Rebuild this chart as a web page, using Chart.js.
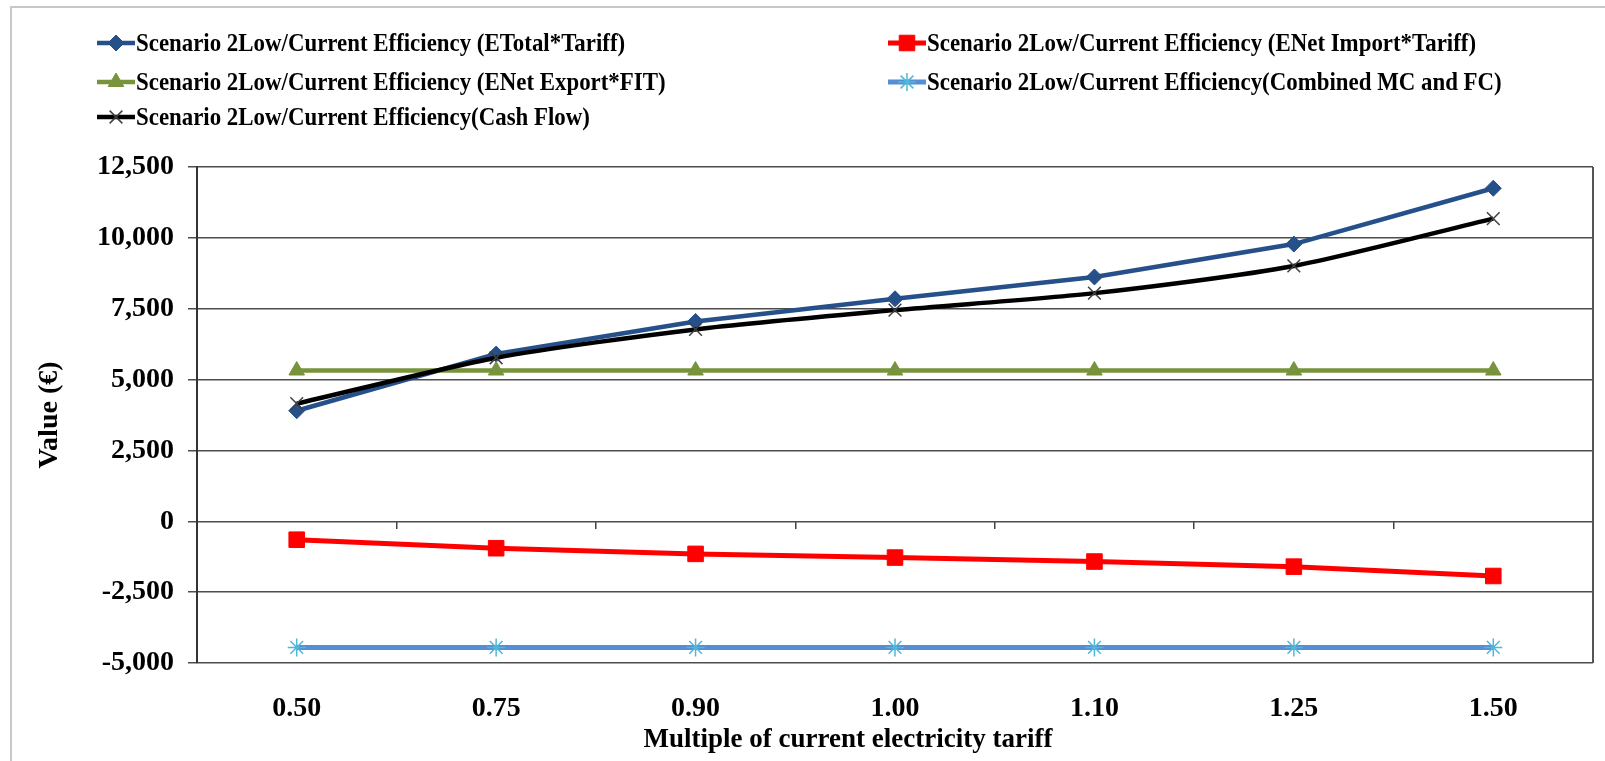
<!DOCTYPE html>
<html>
<head>
<meta charset="utf-8">
<script src="https://cdn.jsdelivr.net/npm/chart.js@4.4.0/dist/chart.umd.min.js"></script>
<style>
  body { margin: 0; background: #fff; }
  #wrap { width: 1605px; height: 761px; }
</style>
</head>
<body>
<div id="wrap"><canvas id="lineChart" width="1605" height="761"></canvas></div>
<script>
// tariff multiples on the x axis
const tariffLabels = ['0.50', '0.75', '0.90', '1.00', '1.10', '1.25', '1.50'];

// values in euro
const eTotalTariff = [3900, 5900, 7050, 7850, 8620, 9780, 11750];
const eNetImportTariff = [-650, -950, -1150, -1280, -1420, -1600, -1930];
const eNetExportFit = [5320, 5320, 5320, 5320, 5320, 5320, 5320];
const combinedMcFc = [-4450, -4450, -4450, -4450, -4450, -4450, -4450];
const cashFlow = [4150, 5770, 6770, 7450, 8050, 9010, 10680];

const seriesNames = [
    'Scenario 2Low/Current Efficiency (ETotal*Tariff)',
    'Scenario 2Low/Current Efficiency (ENet Import*Tariff)',
    'Scenario 2Low/Current Efficiency (ENet Export*FIT)',
    'Scenario 2Low/Current Efficiency(Combined MC and FC)',
    'Scenario 2Low/Current Efficiency(Cash Flow)'
];

const serif = '"Liberation Serif", "Times New Roman", serif';

// legend is laid out in two columns like the spreadsheet one
const legendSlots = [
    { x: 97, y: 43 }, { x: 888, y: 43 },
    { x: 97, y: 82 }, { x: 888, y: 82 },
    { x: 97, y: 117 }
];

const sheetLegend = {
    id: 'sheetLegend',
    beforeDraw(chart) {
        const ctx = chart.ctx;
        ctx.save();
        ctx.strokeStyle = '#c8c8c8';
        ctx.lineWidth = 2;
        ctx.beginPath();
        ctx.moveTo(11, chart.height);
        ctx.lineTo(11, 7);
        ctx.lineTo(chart.width, 7);
        ctx.stroke();
        ctx.restore();
    },
    beforeDatasetsDraw(chart) {
        const ctx = chart.ctx;
        const area = chart.chartArea;
        ctx.save();
        ctx.strokeStyle = '#555';
        ctx.lineWidth = 2;
        ctx.beginPath();
        ctx.moveTo(area.right, area.top);
        ctx.lineTo(area.right, area.bottom);
        ctx.stroke();
        ctx.restore();
    },
    afterDraw(chart) {
        const ctx = chart.ctx;
        chart.data.datasets.forEach(function(ds, i) {
            const slot = legendSlots[i];
            ctx.save();
            ctx.strokeStyle = ds.borderColor;
            ctx.lineWidth = ds.borderWidth;
            ctx.beginPath();
            ctx.moveTo(slot.x, slot.y);
            ctx.lineTo(slot.x + 38, slot.y);
            ctx.stroke();
            ctx.fillStyle = ds.pointBackgroundColor;
            ctx.strokeStyle = ds.pointBorderColor;
            ctx.lineWidth = ds.pointBorderWidth;
            Chart.helpers.drawPoint(ctx, {
                pointStyle: ds.pointStyle,
                radius: ds.pointRadius,
                borderWidth: ds.pointBorderWidth,
                rotation: 0
            }, slot.x + 19, slot.y);
            ctx.translate(slot.x + 39, slot.y);
            ctx.scale(0.88, 1);
            ctx.font = 'bold 26px ' + serif;
            ctx.fillStyle = '#000';
            ctx.textBaseline = 'middle';
            ctx.fillText(ds.label, 0, 1);
            ctx.restore();
        });

        // x axis title sits a bit left of the plot centre in the original
        ctx.save();
        ctx.font = 'bold 27px ' + serif;
        ctx.fillStyle = '#000';
        ctx.textAlign = 'center';
        ctx.textBaseline = 'middle';
        ctx.fillText('Multiple of current electricity tariff', 848, 740);
        ctx.restore();
    }
};

const data = {
    labels: tariffLabels,
    datasets: [{
        label: seriesNames[0],
        data: eTotalTariff,
        borderColor: '#255089',
        borderWidth: 4.5,
        pointStyle: 'rectRot',
        pointRadius: 8,
        pointBackgroundColor: '#255089',
        pointBorderColor: '#255089',
        pointBorderWidth: 1,
        order: 5
    }, {
        label: seriesNames[1],
        data: eNetImportTariff,
        borderColor: '#ff0000',
        borderWidth: 5,
        pointStyle: 'rect',
        pointRadius: 11,
        pointBackgroundColor: '#ff0000',
        pointBorderColor: '#ff0000',
        pointBorderWidth: 1,
        order: 4
    }, {
        label: seriesNames[2],
        data: eNetExportFit,
        borderColor: '#77933c',
        borderWidth: 4.5,
        pointStyle: 'triangle',
        pointRadius: 9,
        pointBackgroundColor: '#77933c',
        pointBorderColor: '#77933c',
        pointBorderWidth: 1,
        order: 3
    }, {
        label: seriesNames[3],
        data: combinedMcFc,
        borderColor: '#558ed5',
        borderWidth: 5,
        pointStyle: 'star',
        pointRadius: 9,
        pointBackgroundColor: '#4fb8d8',
        pointBorderColor: '#4fb8d8',
        pointBorderWidth: 1.5,
        order: 2
    }, {
        label: seriesNames[4],
        data: cashFlow,
        borderColor: '#000000',
        borderWidth: 4.5,
        tension: 0.25,
        pointStyle: 'crossRot',
        pointRadius: 9,
        pointBackgroundColor: '#404040',
        pointBorderColor: '#404040',
        pointBorderWidth: 1.5,
        order: 1
    }]
};

const tickFont = { family: serif, size: 28, weight: 'bold' };

const config = {
    type: 'line',
    data: data,
    options: {
        responsive: false,
        animation: false,
        layout: {
            padding: { top: 167, right: 11, bottom: 0, left: 0 }
        },
        plugins: {
            legend: { display: false },
            tooltip: { enabled: false }
        },
        scales: {
            x: {
                offset: true,
                grid: { display: false },
                border: { display: false },
                ticks: {
                    color: '#000',
                    font: tickFont,
                    padding: 21
                },
                afterFit: function(scale) {
                    scale.height = 98;
                }
            },
            xZero: {
                type: 'category',
                position: { y: 0 },
                offset: true,
                grid: {
                    offset: true,
                    drawOnChartArea: false,
                    tickLength: 8,
                    color: '#444',
                    lineWidth: 1.5
                },
                border: { display: false },
                ticks: { display: false }
            },
            y: {
                min: -5000,
                max: 12500,
                ticks: {
                    stepSize: 2500,
                    color: '#000',
                    font: tickFont,
                    padding: 14
                },
                grid: {
                    color: '#4d4d4d',
                    lineWidth: 1.5,
                    tickLength: 9
                },
                border: { color: '#333', width: 2 },
                title: {
                    display: true,
                    text: 'Value (€)',
                    color: '#000',
                    font: tickFont,
                    padding: { top: 33, bottom: 0 }
                },
                afterFit: function(scale) {
                    scale.width = 197;
                }
            }
        }
    },
    plugins: [sheetLegend]
};

new Chart(document.getElementById('lineChart').getContext('2d'), config);
</script>
</body>
</html>
